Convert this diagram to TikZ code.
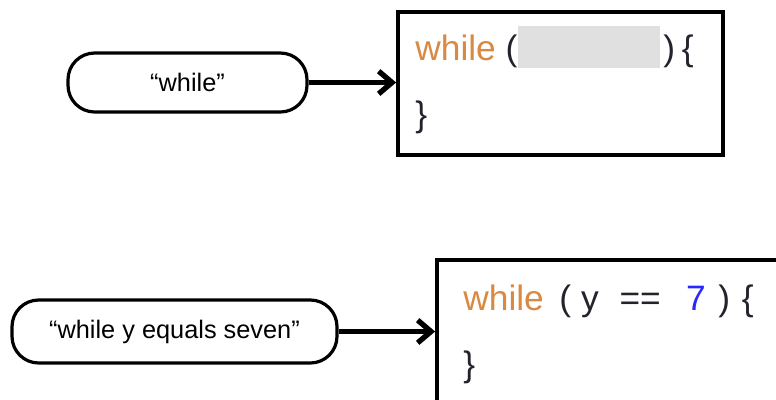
\documentclass[tikz,border=0pt]{standalone}
\usepackage{fontspec}
\setmainfont{Liberation Sans}
\usetikzlibrary{calc,arrows.meta}

\definecolor{kwcol}{RGB}{217,137,66}
\definecolor{numcol}{RGB}{40,40,255}
\definecolor{brcol}{RGB}{35,35,45}
\definecolor{holecol}{RGB}{224,224,224}

\tikzset{
  phrase/.style={draw,rectangle,rounded corners=20pt,line width=2.4pt,font=\fontsize{19}{22}\selectfont},
  codebox/.style={draw,rectangle,line width=2.8pt},
  code/.style={anchor=base west,inner sep=0pt,text=brcol,font=\fontsize{26.5}{30}\selectfont},
  feed/.style={-{Straight Barb[length=10pt,width=17pt]},line width=4pt}
}

\begin{document}
\begin{tikzpicture}[x=0.75pt,y=-0.75pt]
\clip (0,0) rectangle (776,400);

% while
\draw node [codebox,minimum width=243.75pt,minimum height=107.25pt](block) at (560.5,83.5){};
\draw node [phrase,minimum width=179.25pt,minimum height=44.25pt](word) at (187.5,82.5){“while”};
\draw[feed] (word.east) -- (word.east -| block.west);

\draw node [code](opentop) at ($ (block.north west)+(19,50) $){\textcolor{kwcol}{while} (};
\draw node [fill=holecol,inner sep=0pt,minimum width=106.5pt,minimum height=31.5pt](hole) at ($ (block.north west)+(193,37) $){};
\draw node [code](closetop) at ($ (block.north west)+(267,50) $){)\hspace{5pt}\{};
\draw node [code](endtop) at ($ (block.north west)+(19,116) $){\}};

% while y equals seven
\draw node [codebox,minimum width=347.25pt,minimum height=150pt](blockseven) at (668.5,360){};
\draw node [phrase,minimum width=243.75pt,minimum height=47.25pt](wordseven) at (174.5,331.5){“while y equals seven”};
\draw[feed] (wordseven.east) -- (wordseven.east -| blockseven.west);

\draw node [code](openseven) at ($ (blockseven.north west)+(28,52) $){\textcolor{kwcol}{while}\hspace{11.6pt}(\hspace{7.5pt}y\hspace{15.6pt}==\hspace{19pt}\textcolor{numcol}{7}\hspace{9.3pt})\hspace{8.8pt}\{};
\draw node [code](endseven) at ($ (blockseven.north west)+(28,118) $){\}};

\end{tikzpicture}
\end{document}
